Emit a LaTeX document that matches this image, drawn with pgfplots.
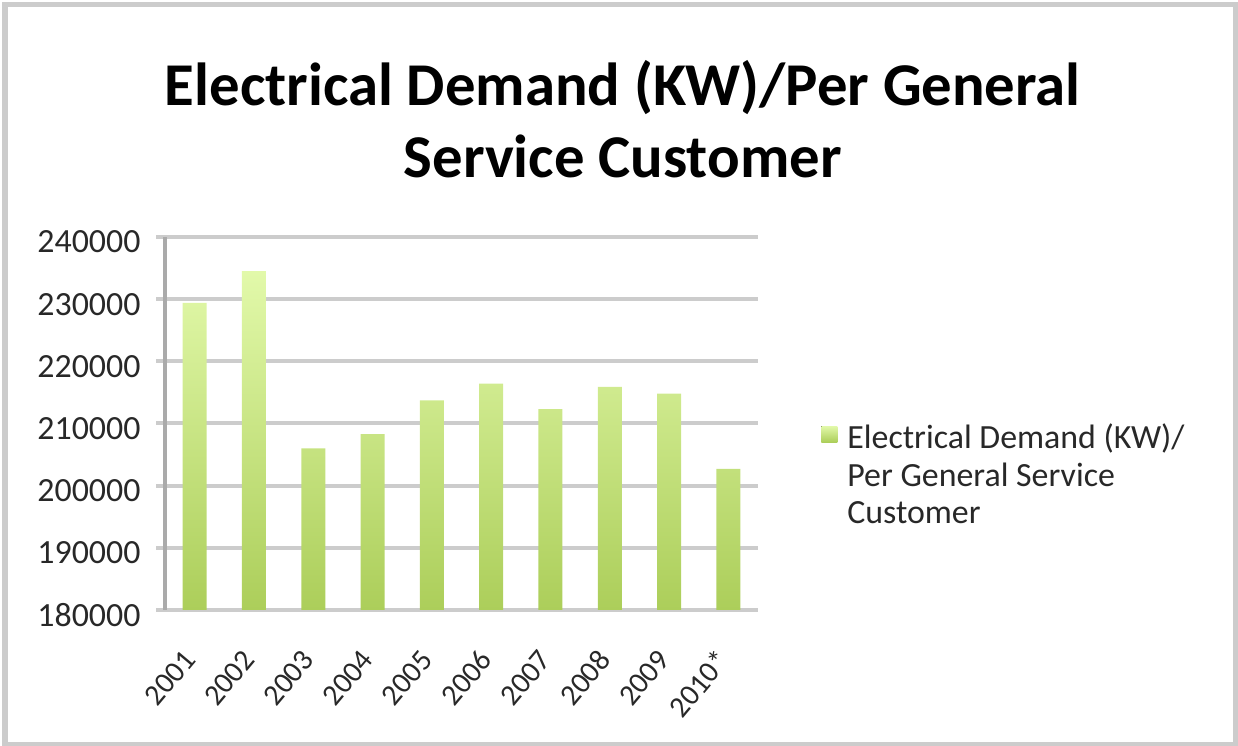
\documentclass[border=0pt]{standalone}
\usepackage{pgfplots}
\pgfplotsset{compat=1.18}
\usepackage{fontspec}
\setmainfont{Carlito}
\definecolor{barTop}{RGB}{226,249,170}
\definecolor{barBot}{RGB}{172,206,90}
\definecolor{gridc}{RGB}{204,204,204}
\definecolor{axisc}{RGB}{170,170,170}
\definecolor{txt}{RGB}{40,40,40}
\begin{document}
\begin{tikzpicture}[x=1bp,y=1bp]
\useasboundingbox (0,0) rectangle (1238,746);
\draw[gridc, line width=5bp] (5,1.5) -- (5,741) -- (1235.5,741) -- (1235.5,1.5) -- cycle;
\begin{axis}[
  at={(165bp,136bp)}, anchor=south west,
  scale only axis, width=593bp, height=373bp,
  ymin=180000, ymax=240000,
  ytick={180000,190000,200000,210000,220000,230000,240000},
  yticklabels={180000,190000,200000,210000,220000,230000,240000},
  xmin=-0.5, xmax=9.5,
  xtick={0,...,9},
  xticklabels={2001,2002,2003,2004,2005,2006,2007,2008,2009,2010*},
  minor xtick={-0.5,0.5,...,9.5},
  scaled y ticks=false,
  axis x line*=bottom, axis y line*=left,
  x axis line style={gridc, line width=4bp},
  y axis line style={axisc, line width=4bp},
  tick align=outside,
  xtick style={draw=none},
  minor tick length=9bp,
  major tick length=9bp,
  minor x tick style={gridc, line width=4bp},
  ytick style={gridc, line width=4bp},
  ymajorgrids,
  major grid style={gridc, line width=4bp},
  yticklabel style={font=\fontsize{34}{40}\selectfont, text=txt, xshift=-12bp, yshift=-5bp},
  xticklabel style={font=\fontsize{30}{36}\selectfont, text=txt, xshift=-3bp, yshift=-33bp, rotate=50, anchor=east},
  ybar, bar width=24bp,
  title={Electrical Demand (KW)/Per General\\Service Customer},
  title style={at={(axis description cs:0.772,1.30)}, anchor=center, align=center, font=\fontsize{61}{73}\selectfont\bfseries, text=black},
  legend style={at={(axis description cs:1.1065,0.469)}, anchor=west, draw=none, fill=none, inner sep=0pt,
    font=\fontsize{34}{40}\selectfont, text=txt},
  legend image code/.code={\fill[top color=barTop,bottom color=barBot] (0bp,-7bp) rectangle (16bp,9bp); \path (24bp,0bp);},
]
\addplot[draw=none, top color=barTop, bottom color=barBot] coordinates {
(0,229400) (1,234500) (2,206000) (3,208300) (4,213700)
(5,216400) (6,212300) (7,215900) (8,214800) (9,202700)};
\addlegendentry{\begin{tabular}[t]{@{}l@{}}Electrical Demand (KW)/\\[-2pt]Per General Service\\[-2pt]Customer\end{tabular}}
\end{axis}
\end{tikzpicture}
\end{document}
